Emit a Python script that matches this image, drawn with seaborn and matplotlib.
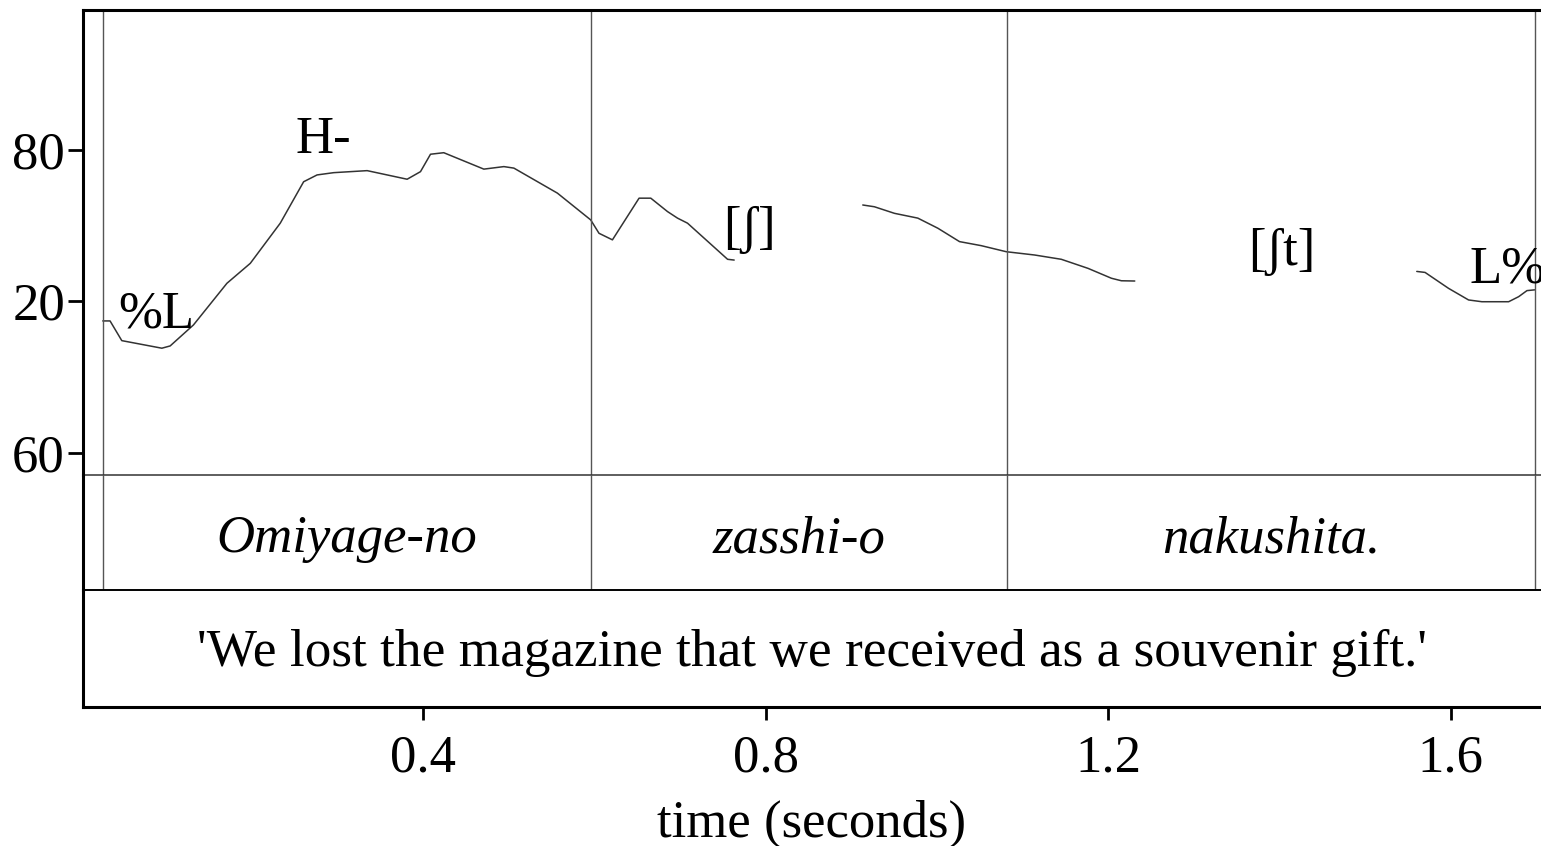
import pandas as pd
import matplotlib.pyplot as plt
import seaborn as sns

# F0 track (Hz), split into the voiced stretches
seg1_time = [0.0254, 0.0339, 0.0476, 0.0944, 0.1041, 0.1313, 0.1704, 0.1977,
             0.2327, 0.2600, 0.2757, 0.2951, 0.3342, 0.3809, 0.3965, 0.4082,
             0.4237, 0.4705, 0.4939, 0.5056, 0.5564, 0.5953, 0.6050, 0.6207,
             0.6518, 0.6655, 0.6850, 0.6967, 0.7084, 0.7552, 0.7629]
seg1_f0 = [112.3, 112.3, 104.5, 101.5, 102.4, 110.7, 127.2, 135.1,
           151.0, 167.4, 170.1, 171.0, 171.8, 168.4, 171.4, 178.3,
           178.9, 172.4, 173.4, 172.8, 162.9, 152.3, 147.0, 144.4,
           160.9, 160.9, 155.6, 153.0, 151.0, 136.7, 136.4]

seg2_time = [0.9131, 0.9267, 0.9501, 0.9774, 1.0008, 1.0261, 1.0515, 1.0807,
             1.1138, 1.1450, 1.1763, 1.2035, 1.2152, 1.2308]
seg2_f0 = [158.2, 157.5, 154.9, 153.0, 149.0, 143.7, 142.1, 139.7,
           138.4, 136.7, 133.1, 129.2, 128.2, 128.1]

seg3_time = [1.5602, 1.5699, 1.5973, 1.6207, 1.6363, 1.6675, 1.6792, 1.6889, 1.6979]
seg3_f0 = [131.9, 131.5, 125.2, 120.6, 119.9, 119.9, 121.9, 124.3, 124.6]

# tones / segment labels inside the pitch panel
tone_labels = ['%L', 'H-', '[ʃ]', '[ʃt]', 'L%']
tone_times = [0.0883, 0.2825, 0.7813, 1.4029, 1.6660]
tone_f0 = [109.5, 178.8, 143.2, 134.5, 127.7]

# word tier
boundary_times = [0.0257, 0.5953, 1.0819, 1.6982]
words = ['Omiyage-no', 'zasshi-o', 'nakushita.']
translation = "'We lost the magazine that we received as a souvenir gift.'"

xticks = [0.4, 0.8, 1.2, 1.6]
xtick_labels = ['0.4', '0.8', '1.2', '1.6']
yticks = [60, 120, 180]
ytick_labels = ['60', '20', '80']

df = pd.concat([
    pd.DataFrame({'time': seg1_time, 'f0': seg1_f0, 'segment': 1}),
    pd.DataFrame({'time': seg2_time, 'f0': seg2_f0, 'segment': 2}),
    pd.DataFrame({'time': seg3_time, 'f0': seg3_f0, 'segment': 3}),
])

sns.set_style('white')
plt.rcParams['font.family'] = ['Liberation Serif', 'DejaVu Serif']
plt.rcParams['text.color'] = 'black'

W, H = 1541, 846
fig = plt.figure(figsize=(W / 100, H / 100), dpi=100)


def box(top, bottom):
    return [83 / W, 1 - bottom / H, 1 - 83 / W, (bottom - top) / H]


ax_f0 = fig.add_axes(box(10, 475))
ax_word = fig.add_axes(box(475, 590), sharex=ax_f0)
ax_tr = fig.add_axes(box(590, 707), sharex=ax_f0)
for ax in (ax_f0, ax_word, ax_tr):
    ax.patch.set_alpha(0)

sns.lineplot(data=df, x='time', y='f0', units='segment', estimator=None,
             sort=False, color='#333333', linewidth=1.1, ax=ax_f0, legend=False)

ax_f0.set_xlim(0.0023, 1.7053)
ax_f0.set_ylim(51.3, 235.4)

for t, f, lab in zip(tone_times, tone_f0, tone_labels):
    ax_f0.text(t, f, lab, ha='center', va='baseline', fontsize=38, color='black')

# boundaries through pitch panel and word tier
for ax in (ax_f0, ax_word):
    for b in boundary_times:
        ax.axvline(b, color='#555555', linewidth=1.0)

for i, w in enumerate(words):
    mid = (boundary_times[i] + boundary_times[i + 1]) / 2
    ax_word.text(mid, 0.44, w, ha='center', va='center', fontsize=38,
                 style='italic', color='black',
                 transform=ax_word.get_xaxis_transform())
ax_word.set_ylim(0, 1)

ax_tr.text(0.5, 0.46, translation, ha='center', va='center', fontsize=38.3,
           color='black', transform=ax_tr.transAxes)
ax_tr.set_ylim(0, 1)

# spines
for ax in (ax_f0, ax_word, ax_tr):
    ax.spines['right'].set_visible(False)
    ax.spines['left'].set_linewidth(2.2)
    ax.spines['left'].set_color('black')
    ax.spines['top'].set_visible(False)
    ax.set_xlabel('')
    ax.set_ylabel('')
ax_f0.spines['top'].set_visible(True)
ax_f0.spines['top'].set_linewidth(2.2)
ax_f0.spines['top'].set_color('black')
ax_f0.spines['bottom'].set_linewidth(1.1)
ax_f0.spines['bottom'].set_color('#333333')
ax_word.spines['bottom'].set_linewidth(1.4)
ax_word.spines['bottom'].set_color('black')
ax_tr.spines['bottom'].set_linewidth(2.2)
ax_tr.spines['bottom'].set_color('black')

ax_f0.set_yticks(yticks)
ax_f0.set_yticklabels(ytick_labels)
ax_f0.tick_params(axis='y', left=True, direction='out', length=11, width=2,
                  pad=2, labelsize=38, colors='black')
ax_f0.tick_params(axis='x', bottom=False, labelbottom=False)
for ax in (ax_word, ax_tr):
    ax.set_yticks([])
ax_word.tick_params(axis='x', bottom=False, labelbottom=False)

ax_tr.set_xticks(xticks)
ax_tr.set_xticklabels(xtick_labels)
ax_tr.tick_params(axis='x', bottom=True, direction='out', length=9.5, width=2,
                  pad=10, labelsize=38, colors='black')
ax_tr.set_xlabel('time (seconds)', fontsize=38, labelpad=13, color='black')

fig.savefig('out.png', dpi=100)
